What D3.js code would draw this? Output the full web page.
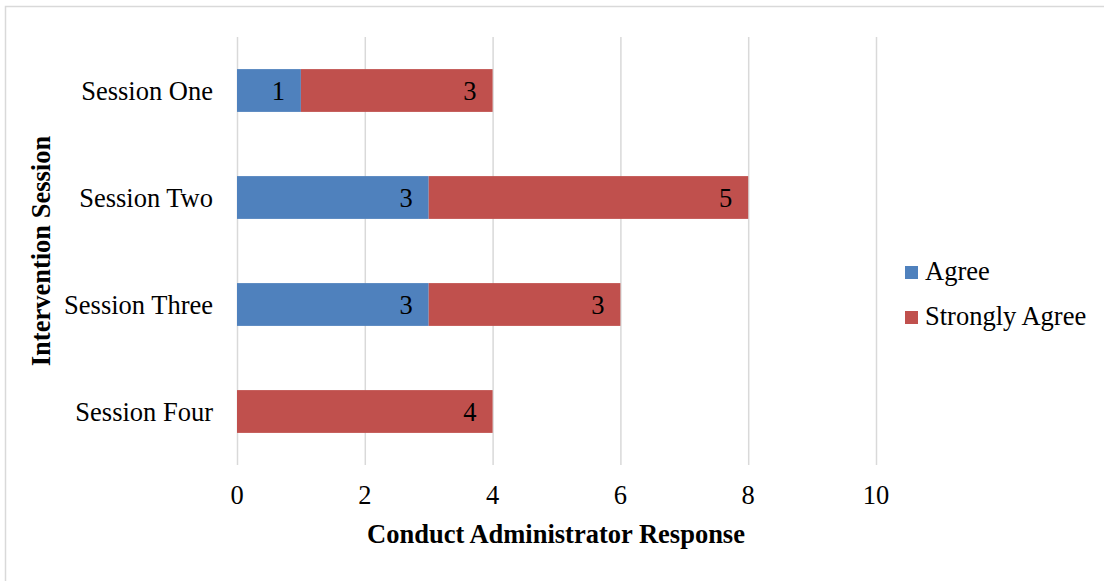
<!DOCTYPE html>
<html>
<head>
<meta charset="utf-8">
<script src="https://cdn.jsdelivr.net/npm/d3@7"></script>
<style>
  body { margin: 0; background: #fff; }
  text { font-family: "Liberation Serif", "Times New Roman", serif; fill: #000; }
</style>
</head>
<body>
<svg id="stage" width="1104" height="581"></svg>
<script>
// data
var sessions = ["Session One", "Session Two", "Session Three", "Session Four"];
var agree = [1, 3, 3, 0];
var stronglyAgree = [3, 5, 3, 4];
var seriesNames = ["Agree", "Strongly Agree"];
var seriesColors = ["#4F81BD", "#C0504D"];
var xTicks = [0, 2, 4, 6, 8, 10];

var fs = "26.5px";
var svg = d3.select("#stage");

// outer chart border
svg.append("rect")
  .attr("x", 5.5).attr("y", 6.5)
  .attr("width", 1200).attr("height", 700)
  .attr("fill", "none").attr("stroke", "#D9D9D9").attr("stroke-width", 1.5);

var x = d3.scaleLinear().domain([0, 10]).range([237, 876]);
var y = d3.scaleBand().domain(sessions).range([37, 465]).paddingInner(0.6).paddingOuter(0.3);

// gridlines
svg.append("g").selectAll("line")
  .data(xTicks).enter().append("line")
  .attr("x1", function(d){ return x(d) + 0.5; })
  .attr("x2", function(d){ return x(d) + 0.5; })
  .attr("y1", 37).attr("y2", 465)
  .attr("stroke", "#D9D9D9").attr("stroke-width", 1.5);

// stack the two series
var rows = sessions.map(function(s, i){
  return { session: s, Agree: agree[i], "Strongly Agree": stronglyAgree[i] };
});
var stacked = d3.stack().keys(seriesNames)(rows);

var layers = svg.append("g").selectAll("g")
  .data(stacked).enter().append("g")
  .attr("fill", function(d, i){ return seriesColors[i]; });

layers.selectAll("rect")
  .data(function(d){ return d.filter(function(p){ return p[1] - p[0] > 0; }); })
  .enter().append("rect")
  .attr("x", function(d){ return x(d[0]); })
  .attr("y", function(d){ return y(d.data.session); })
  .attr("width", function(d){ return x(d[1]) - x(d[0]); })
  .attr("height", y.bandwidth());

// value labels (inside end)
layers.selectAll("text")
  .data(function(d){ return d.filter(function(p){ return p[1] - p[0] > 0; }); })
  .enter().append("text")
  .attr("x", function(d){ return x(d[1]) - 16; })
  .attr("y", function(d){ return y(d.data.session) + y.bandwidth() / 2 + 9; })
  .attr("text-anchor", "end")
  .style("font-size", fs)
  .text(function(d){ return d[1] - d[0]; });

// category labels
svg.append("g").selectAll("text")
  .data(sessions).enter().append("text")
  .attr("x", 213)
  .attr("y", function(d){ return y(d) + y.bandwidth() / 2 + 9; })
  .attr("text-anchor", "end")
  .style("font-size", fs)
  .text(function(d){ return d; });

// x tick labels
svg.append("g").selectAll("text")
  .data(xTicks).enter().append("text")
  .attr("x", function(d){ return x(d); })
  .attr("y", 504)
  .attr("text-anchor", "middle")
  .style("font-size", fs)
  .text(function(d){ return d; });

// axis titles
svg.append("text")
  .attr("x", 556).attr("y", 543)
  .attr("text-anchor", "middle")
  .style("font-size", fs).style("font-weight", "bold")
  .text("Conduct Administrator Response");

svg.append("text")
  .attr("transform", "translate(50,251) rotate(-90)")
  .attr("text-anchor", "middle")
  .style("font-size", fs).style("font-weight", "bold")
  .text("Intervention Session");

// legend
var legend = svg.append("g").selectAll("g")
  .data(seriesNames).enter().append("g")
  .attr("transform", function(d, i){ return "translate(905," + (266 + i * 45) + ")"; });
legend.append("rect")
  .attr("width", 13).attr("height", 13)
  .attr("fill", function(d, i){ return seriesColors[i]; });
legend.append("text")
  .attr("x", 20).attr("y", 14)
  .style("font-size", fs)
  .text(function(d){ return d; });
</script>
</body>
</html>
